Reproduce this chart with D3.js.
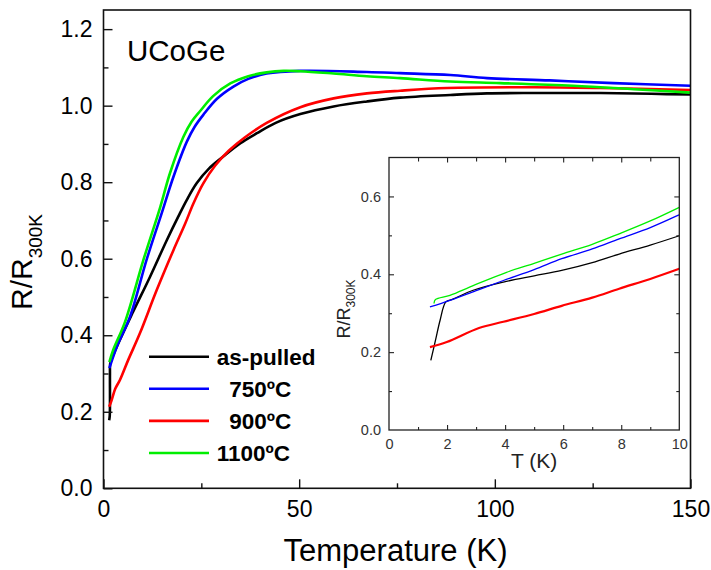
<!DOCTYPE html>
<html>
<head>
<meta charset="utf-8">
<script src="https://cdn.jsdelivr.net/npm/d3@7"></script>
<style>
  html, body { margin: 0; padding: 0; background: #fff; }
  svg { display: block; font-family: "Liberation Sans", Arial, Helvetica, sans-serif; }
  .pre { white-space: pre; }
</style>
</head>
<body>
<svg id="chart" width="711" height="570"></svg>
<script>
// ---- Resistance ratio R/R300K of UCoGe samples vs temperature ----

// Series labels and colours (legend order)
const seriesNames  = ["as-pulled", "  750ºC", "  900ºC", "1100ºC"];
const seriesColors = ["#000000", "#0000ff", "#ff0000", "#00ee00"];

// Main panel, 0-150 K
const asPulledT = [1.45, 1.6, 1.65, 1.7, 2.0, 3.8, 7.6, 11.9, 16.2, 19.1, 21.3, 23.8, 27, 30.6, 35, 39.2, 44, 50.3, 58.8, 67.3, 75.8, 88.6, 98, 110, 127, 140, 150];
const asPulledR = [0.178, 0.19, 0.30, 0.325, 0.335, 0.379, 0.462, 0.553, 0.649, 0.71, 0.754, 0.797, 0.836, 0.867, 0.902, 0.928, 0.955, 0.978, 0.998, 1.011, 1.021, 1.028, 1.032, 1.033, 1.033, 1.031, 1.029];

const t750T = [1.5, 3.4, 6.8, 11.0, 14.9, 17.9, 21.3, 23.3, 25.5, 29, 33.2, 37, 41.7, 50.3, 67.3, 75.8, 88.6, 98, 114, 130.3, 150];
const t750R = [0.314, 0.370, 0.449, 0.597, 0.72, 0.815, 0.906, 0.945, 0.976, 1.018, 1.050, 1.070, 1.084, 1.091, 1.088, 1.085, 1.080, 1.072, 1.066, 1.059, 1.052];

const t900T = [1.45, 2.0, 3.0, 4.2, 6.3, 9.3, 13.6, 17.9, 20.8, 23.0, 25.5, 28.5, 32, 36, 41.7, 50.3, 58.8, 67.3, 75.8, 87.8, 110, 127, 150];
const t900R = [0.213, 0.228, 0.26, 0.283, 0.335, 0.405, 0.518, 0.623, 0.69, 0.745, 0.797, 0.843, 0.882, 0.916, 0.955, 0.996, 1.019, 1.032, 1.039, 1.046, 1.048, 1.046, 1.041];

const t1100T = [1.5, 2.5, 5.5, 10.2, 14.5, 17.0, 20.4, 22.5, 24.7, 28, 32.4, 37, 41.7, 46, 50.3, 58.8, 67.3, 75.8, 88.6, 101.4, 120, 135.5, 150];
const t1100R = [0.33, 0.362, 0.435, 0.597, 0.735, 0.824, 0.918, 0.958, 0.986, 1.025, 1.058, 1.077, 1.087, 1.091, 1.090, 1.084, 1.077, 1.072, 1.063, 1.059, 1.052, 1.043, 1.034];

// Inset, 0-10 K
const inAsPulledT = [1.44, 1.6, 1.76, 1.96, 2.2, 2.9, 3.94, 5.0, 5.95, 7.0, 7.93, 9.0, 10];
const inAsPulledR = [0.179, 0.23, 0.282, 0.329, 0.336, 0.359, 0.380, 0.396, 0.410, 0.43, 0.452, 0.475, 0.499];
const in750T = [1.41, 2.1, 3.0, 3.94, 5.0, 5.95, 7.0, 7.93, 9.0, 10];
const in750R = [0.316, 0.333, 0.358, 0.384, 0.412, 0.440, 0.465, 0.491, 0.52, 0.553];
const in900T = [1.41, 1.99, 3.1, 3.94, 5.0, 5.95, 7.0, 7.93, 9.0, 10];
const in900R = [0.213, 0.226, 0.262, 0.278, 0.298, 0.319, 0.34, 0.363, 0.388, 0.414];
const in1100T = [1.55, 1.6, 2.1, 2.9, 4.05, 5.0, 5.95, 7.0, 7.93, 9.0, 10];
const in1100R = [0.325, 0.335, 0.346, 0.371, 0.405, 0.428, 0.452, 0.477, 0.504, 0.537, 0.572];

// Axis ticks
const mainXTicks = [0, 50, 100, 150];
const mainYTicks = [0.0, 0.2, 0.4, 0.6, 0.8, 1.0, 1.2];
const insetXTicks = [0, 2, 4, 6, 8, 10];
const insetYTicks = [0.0, 0.2, 0.4, 0.6];

const zip = (ts, rs) => ts.map((t, i) => [t, rs[i]]);
const mainSeries = [zip(asPulledT, asPulledR), zip(t750T, t750R), zip(t900T, t900R), zip(t1100T, t1100R)];
const insetSeries = [zip(inAsPulledT, inAsPulledR), zip(in750T, in750R), zip(in900T, in900R), zip(in1100T, in1100R)];

const svg = d3.select("#chart");
const FONT = '"Liberation Sans", Arial, Helvetica, sans-serif';

// ---------- main panel ----------
const M = { left: 103.5, right: 690.5, top: 10, bottom: 488.3 };
const x = d3.scaleLinear().domain([0, 150]).range([M.left, M.right]);
const y = d3.scaleLinear().domain([0, 1.25]).range([M.bottom, M.top]);

const main = svg.append("g");

// curves
const line = d3.line().x(d => x(d[0])).y(d => y(d[1])).curve(d3.curveCatmullRom.alpha(0.5));
mainSeries.forEach((s, i) => {
  main.append("path").datum(s)
    .attr("d", line).attr("fill", "none")
    .attr("stroke", seriesColors[i]).attr("stroke-width", 2.6)
    .attr("stroke-linejoin", "round");
});

// frame
main.append("rect")
  .attr("x", M.left).attr("y", M.top)
  .attr("width", M.right - M.left).attr("height", M.bottom - M.top)
  .attr("fill", "none").attr("stroke", "#111").attr("stroke-width", 1.6);

// bottom axis, inward ticks
const xAxis = d3.axisBottom(x).tickValues(mainXTicks).tickSize(-9).tickFormat(d3.format("d"));
const gx = main.append("g").attr("transform", `translate(0,${M.bottom})`).call(xAxis);
gx.select(".domain").remove();
gx.selectAll(".tick line").attr("stroke", "#111").attr("stroke-width", 1.4);
gx.selectAll(".tick text").attr("font-size", 23).attr("font-family", FONT).attr("fill", "#000")
  .attr("dy", "0").attr("y", 29);
const xMinor = d3.axisBottom(x).tickValues([25, 75, 125]).tickSize(-5).tickFormat("");
const gxm = main.append("g").attr("transform", `translate(0,${M.bottom})`).call(xMinor);
gxm.select(".domain").remove();
gxm.selectAll(".tick line").attr("stroke", "#111").attr("stroke-width", 1.4);

// left axis, inward ticks
const yAxis = d3.axisLeft(y).tickValues(mainYTicks).tickSize(-9).tickPadding(11).tickFormat(d3.format(".1f"));
const gy = main.append("g").attr("transform", `translate(${M.left},0)`).call(yAxis);
gy.select(".domain").remove();
gy.selectAll(".tick line").attr("stroke", "#111").attr("stroke-width", 1.4);
gy.selectAll(".tick text").attr("font-size", 23).attr("font-family", FONT).attr("fill", "#000");
const yMinor = d3.axisLeft(y).tickValues([0.1, 0.3, 0.5, 0.7, 0.9, 1.1]).tickSize(-5).tickFormat("");
const gym = main.append("g").attr("transform", `translate(${M.left},0)`).call(yMinor);
gym.select(".domain").remove();
gym.selectAll(".tick line").attr("stroke", "#111").attr("stroke-width", 1.4);

// axis titles
main.append("text")
  .attr("x", 395.5).attr("y", 561)
  .attr("text-anchor", "middle").attr("font-size", 31).attr("fill", "#000")
  .text("Temperature (K)");

const yt = main.append("text")
  .attr("transform", "rotate(-90)")
  .attr("x", -262).attr("y", 32)
  .attr("text-anchor", "middle").attr("fill", "#000");
yt.append("tspan").attr("font-size", 30).text("R/R");
yt.append("tspan").attr("font-size", 19).attr("dy", 10).text("300K");

// compound label
main.append("text").attr("x", 127).attr("y", 61)
  .attr("font-size", 29.5).attr("fill", "#000").text("UCoGe");

// legend
const legY0 = 356.7, legStep = 32.1;
seriesNames.forEach((name, i) => {
  const ly = legY0 + i * legStep;
  main.append("line")
    .attr("x1", 149).attr("x2", 209).attr("y1", ly).attr("y2", ly)
    .attr("stroke", seriesColors[i]).attr("stroke-width", 2.6);
  main.append("text").attr("class", "pre")
    .attr("x", 216.7).attr("y", ly + 7.8)
    .attr("font-size", 22.5).attr("font-weight", "bold").attr("fill", "#000")
    .text(name);
});

// ---------- inset ----------
const I = { left: 389, right: 679.3, top: 157.5, bottom: 430 };
const xi = d3.scaleLinear().domain([0, 10]).range([I.left, I.right]);
const yi = d3.scaleLinear().domain([0, 0.7]).range([I.bottom, I.top]);
const inset = svg.append("g");

inset.append("rect")
  .attr("x", I.left).attr("y", I.top)
  .attr("width", I.right - I.left).attr("height", I.bottom - I.top)
  .attr("fill", "#fff").attr("stroke", "none");

const lineI = d3.line().x(d => xi(d[0])).y(d => yi(d[1])).curve(d3.curveCatmullRom.alpha(0.5));
const insetWidths = [1.3, 1.3, 2.2, 1.3];
insetSeries.forEach((s, i) => {
  inset.append("path").datum(s)
    .attr("d", lineI).attr("fill", "none")
    .attr("stroke", seriesColors[i]).attr("stroke-width", insetWidths[i]);
});

inset.append("rect")
  .attr("x", I.left).attr("y", I.top)
  .attr("width", I.right - I.left).attr("height", I.bottom - I.top)
  .attr("fill", "none").attr("stroke", "#222").attr("stroke-width", 1.3);

function tickSet(g, axisFn, scale, values, size, tx, ty) {
  const a = axisFn(scale).tickValues(values).tickSize(size).tickFormat("");
  const gg = g.append("g").attr("transform", `translate(${tx},${ty})`).call(a);
  gg.select(".domain").remove();
  gg.selectAll(".tick line").attr("stroke", "#222").attr("stroke-width", 1.1);
  return gg;
}
const ixMajor = [2, 4, 6, 8], ixMinor = [1, 3, 5, 7, 9];
const iyMajor = [0.2, 0.4, 0.6], iyMinor = [0.1, 0.3, 0.5];
tickSet(inset, d3.axisBottom, xi, ixMajor, -5, 0, I.bottom);
tickSet(inset, d3.axisBottom, xi, ixMinor, -3, 0, I.bottom);
tickSet(inset, d3.axisTop, xi, ixMajor, -5, 0, I.top);
tickSet(inset, d3.axisTop, xi, ixMinor, -4, 0, I.top);
tickSet(inset, d3.axisLeft, yi, iyMajor, -5, I.left, 0);
tickSet(inset, d3.axisLeft, yi, iyMinor, -3, I.left, 0);
tickSet(inset, d3.axisRight, yi, iyMajor, -5, I.right, 0);
tickSet(inset, d3.axisRight, yi, iyMinor, -3, I.right, 0);

// inset tick labels
const ixA = d3.axisBottom(xi).tickValues(insetXTicks).tickSize(0).tickPadding(9).tickFormat(d3.format("d"));
const gix = inset.append("g").attr("transform", `translate(0,${I.bottom})`).call(ixA);
gix.select(".domain").remove();
gix.selectAll(".tick text").attr("font-size", 14.5).attr("font-family", FONT).attr("fill", "#333");
const iyA = d3.axisLeft(yi).tickValues(insetYTicks).tickSize(0).tickPadding(8).tickFormat(d3.format(".1f"));
const giy = inset.append("g").attr("transform", `translate(${I.left},0)`).call(iyA);
giy.select(".domain").remove();
giy.selectAll(".tick text").attr("font-size", 14.5).attr("font-family", FONT).attr("fill", "#333");

inset.append("text")
  .attr("x", (I.left + I.right) / 2).attr("y", 468)
  .attr("text-anchor", "middle").attr("font-size", 21).attr("fill", "#222")
  .text("T (K)");

const iyt = inset.append("text")
  .attr("transform", "rotate(-90)")
  .attr("x", -309).attr("y", 350)
  .attr("text-anchor", "middle").attr("fill", "#222");
iyt.append("tspan").attr("font-size", 18).text("R/R");
iyt.append("tspan").attr("font-size", 12).attr("dy", 5).text("300K");
</script>
</body>
</html>
